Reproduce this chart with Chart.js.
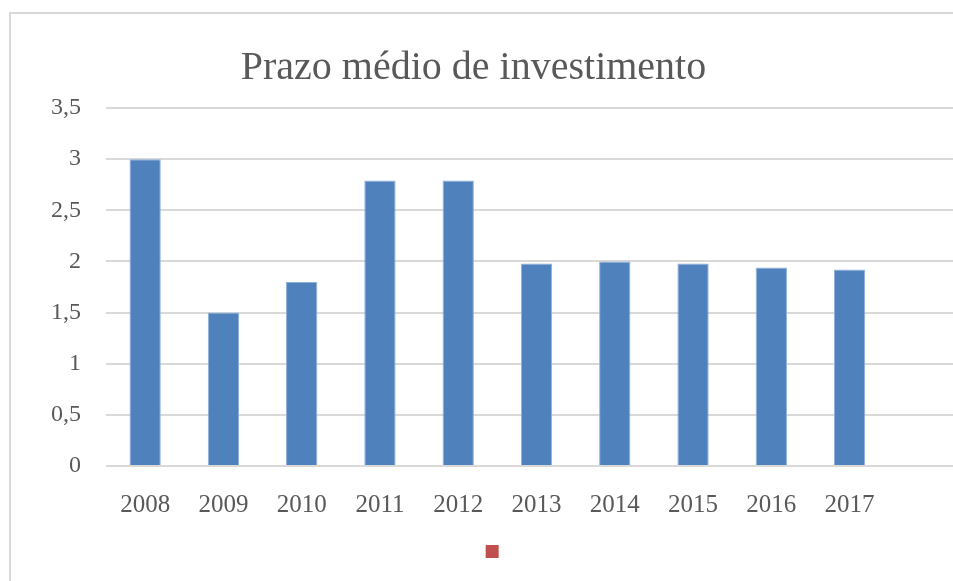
<!DOCTYPE html>
<html>
<head>
<meta charset="utf-8">
<script src="https://cdn.jsdelivr.net/npm/chart.js@4"></script>
<style>
  html, body { margin: 0; padding: 0; background: #fff; overflow: hidden; }
  body { width: 953px; height: 581px; position: relative; }
  #frame {
    position: absolute; left: 9px; top: 12px; width: 1000px; height: 620px;
    border: 2px solid #d9d9d9; box-sizing: border-box;
  }
  #box { position: absolute; left: 0; top: 0; width: 967px; height: 581px; }
</style>
</head>
<body>
<div id="frame"></div>
<div id="box"><canvas id="myChart"></canvas></div>
<script>
// categories (last slot is empty in the original chart)
const years = ["2008", "2009", "2010", "2011", "2012", "2013", "2014", "2015", "2016", "2017", ""];
const prazoMedio = [3.0, 1.5, 1.8, 2.79, 2.79, 1.98, 2.0, 1.98, 1.94, 1.92, null];
const yTicks = [0, 0.5, 1, 1.5, 2, 2.5, 3, 3.5];

const textColor = "#595959";
const serif = "'Liberation Serif', 'DejaVu Serif', serif";

const ctx = document.getElementById("myChart").getContext("2d");
window.myChart = new Chart(ctx, {
    type: "bar",
    data: {
        labels: years,
        datasets: [
            {
                label: "",
                data: prazoMedio,
                backgroundColor: "#4F81BD",
                borderColor: "#8fb0dc",
                borderWidth: 1,
                barPercentage: 0.4,
                categoryPercentage: 1.0,
            },
        ],
    },
    options: {
        responsive: true,
        maintainAspectRatio: false,
        animation: false,
        layout: { padding: { left: 0, right: 0, top: 0, bottom: 13 } },
        plugins: {
            title: {
                display: true,
                // trailing spaces nudge the centred title a little to the left
                text: "Prazo médio de investimento  ",
                color: textColor,
                font: { family: serif, size: 40, weight: "normal" },
                padding: { top: 44, bottom: 16 },
            },
            legend: {
                display: true,
                position: "bottom",
                rtl: true,
                labels: {
                    boxWidth: 13,
                    boxHeight: 13,
                    padding: 10,
                    font: { size: 13 },
                    // the original legend shows only the marker, no text
                    generateLabels: () => [
                        { text: "   ", fillStyle: "#C0504D", strokeStyle: "#C0504D", lineWidth: 0 },
                    ],
                },
            },
            tooltip: { enabled: false },
        },
        scales: {
            x: {
                grid: { display: false, drawTicks: false },
                border: { display: false },
                ticks: {
                    color: textColor,
                    font: { family: serif, size: 25 },
                    padding: 24,
                    maxRotation: 0,
                    autoSkip: false,
                },
                afterFit: (scale) => { scale.height = 69; },
            },
            y: {
                min: 0,
                max: 3.5,
                afterBuildTicks: (scale) => {
                    scale.ticks = yTicks.map((v) => ({ value: v }));
                },
                grid: { color: "#d9d9d9", lineWidth: 2, drawTicks: false },
                border: { display: false },
                ticks: {
                    color: textColor,
                    font: { family: serif, size: 24 },
                    padding: 25,
                    callback: (v) => String(v).replace(".", ","),
                },
                afterFit: (scale) => { scale.width = 106; },
            },
        },
    },
});
</script>
</body>
</html>
